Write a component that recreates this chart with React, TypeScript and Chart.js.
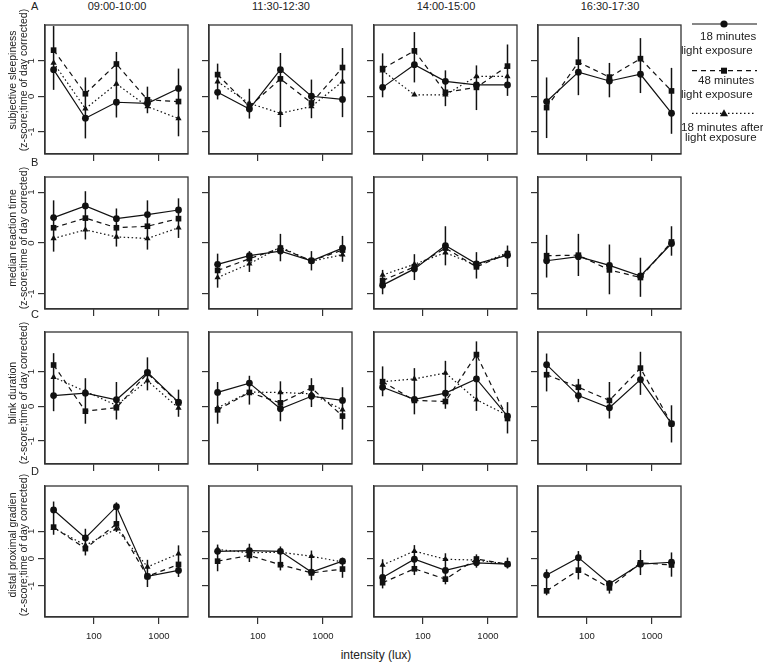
import React, { useEffect, useRef } from "react";
import { Chart, registerables } from "chart.js";

Chart.register(...registerables);

// ---------- data ----------
const LUX = [24, 74, 222, 666, 2000];
const X_TICKS = [100, 1000];
const Y_TICKS = [-1, 0, 1];
const TIME_WINDOWS = ["09:00-10:00", "11:30-12:30", "14:00-15:00", "16:30-17:30"];
const PANEL_LETTERS = ["A", "B", "C", "D"];
const MEASURE_NAMES = ["subjective sleepiness", "median reaction time", "blink duration", "distal proximal gradien"];
const Y_SUBTITLE = "(z-score;time of day corrected)";
const X_TITLE = "intensity (lux)";
const SERIES_18 = ["18 minutes", "light exposure"];
const SERIES_48 = ["48 minutes", "light exposure"];
const SERIES_AFTER = ["18 minutes after", "light exposure"];

// subjective sleepiness (one array per time window)
const sleep18 = [
  [0.75, -0.62, -0.17, -0.2, 0.22],
  [0.11, -0.36, 0.75, 0.0, -0.09],
  [0.25, 0.89, 0.42, 0.32, 0.32],
  [-0.15, 0.68, 0.43, 0.62, -0.48],
];
const sleep48 = [
  [1.3, 0.07, 0.91, -0.1, -0.15],
  [0.61, -0.29, 0.49, -0.19, 0.81],
  [0.78, 1.28, 0.11, 0.25, 0.85],
  [-0.32, 0.96, 0.54, 1.06, 0.15],
];
const sleepAfter = [
  [0.94, -0.35, 0.35, -0.29, -0.63],
  [0.41, -0.2, -0.48, -0.29, 0.41],
  [0.72, 0.04, 0.04, 0.56, 0.56],
  null,
];
const sleepErrLow = [
  [0.18, -1.19, -0.6, -0.48, -1.13],
  [-0.09, -0.63, -0.87, -0.62, -0.59],
  [-0.03, 0.39, -0.28, -0.39, 0.01],
  [-1.18, 0.03, -0.03, 0.09, -1.06],
];
const sleepErrHigh = [
  [1.98, 0.53, 1.25, 0.27, 0.78],
  [0.92, 0.21, 1.22, 0.47, 1.36],
  [1.21, 1.81, 0.73, 0.87, 1.46],
  [0.53, 1.67, 0.94, 1.64, 0.8],
];

// median reaction time
const rt18 = [
  [0.5, 0.73, 0.48, 0.56, 0.65],
  [-0.42, -0.25, -0.16, -0.35, -0.1],
  [-0.83, -0.51, -0.05, -0.41, -0.24],
  [-0.35, -0.27, -0.44, -0.65, -0.01],
];
const rt48 = [
  [0.3, 0.49, 0.3, 0.33, 0.48],
  [-0.54, -0.31, -0.1, -0.35, -0.14],
  [-0.74, -0.47, -0.1, -0.47, -0.21],
  [-0.25, -0.24, -0.53, -0.68, 0.02],
];
const rtAfter = [
  [0.09, 0.26, 0.12, 0.09, 0.3],
  [-0.68, -0.41, -0.08, -0.36, -0.23],
  [-0.63, -0.42, -0.19, -0.44, -0.19],
  null,
];
const rtErrLow = [
  [-0.17, 0.07, -0.07, -0.13, 0.1],
  [-0.88, -0.57, -0.36, -0.54, -0.37],
  [-1.01, -0.73, -0.44, -0.7, -0.47],
  [-0.68, -0.65, -1.01, -1.06, -0.25],
];
const rtErrHigh = [
  [0.84, 1.02, 0.68, 0.84, 0.88],
  [-0.21, -0.16, 0.18, -0.16, 0.14],
  [-0.53, -0.22, 0.33, -0.18, -0.05],
  [0.16, 0.18, -0.03, -0.29, 0.33],
];

// blink duration
const blink18 = [
  [0.31, 0.38, 0.19, 0.98, 0.12],
  [0.4, 0.67, -0.07, 0.29, 0.17],
  [0.55, 0.2, 0.38, 0.79, -0.28],
  [1.2, 0.31, -0.04, 0.77, -0.5],
];
const blink48 = [
  [1.19, -0.14, -0.04, 0.95, 0.1],
  [-0.1, 0.4, 0.1, 0.53, -0.28],
  [0.71, 0.17, 0.14, 1.49, -0.35],
  [0.91, 0.55, 0.17, 1.1, -0.5],
];
const blinkAfter = [
  [0.84, 0.43, 0.03, 0.74, -0.05],
  [-0.04, 0.41, 0.4, 0.36, -0.1],
  [0.71, 0.79, 0.96, 0.19, -0.26],
  null,
];
const blinkErrLow = [
  [-0.14, -0.5, -0.38, 0.46, -0.3],
  [-0.5, 0.05, -0.43, -0.02, -0.67],
  [0.29, -0.23, -0.07, -0.13, -0.78],
  [0.43, 0.12, -0.35, 0.33, -1.04],
];
const blinkErrHigh = [
  [1.53, 0.81, 0.7, 1.41, 0.48],
  [0.7, 0.88, 0.72, 0.81, 0.55],
  [1.15, 1.1, 1.31, 1.87, 0.12],
  [1.52, 0.79, 0.7, 1.57, 0.03],
];

// distal proximal gradient
const dpg18 = [
  [1.79, 0.76, 1.91, -0.65, -0.43],
  [0.27, 0.3, 0.27, -0.49, -0.09],
  [-0.69, -0.02, -0.43, -0.15, -0.2],
  [-0.6, 0.04, -0.92, -0.2, -0.13],
];
const dpg48 = [
  [1.16, 0.37, 1.28, -0.65, -0.21],
  [-0.09, 0.12, -0.22, -0.52, -0.38],
  [-0.88, -0.37, -0.75, -0.01, -0.2],
  [-1.18, -0.42, -1.07, -0.15, -0.23],
];
const dpgAfter = [
  [1.13, 0.49, 1.1, -0.3, 0.18],
  [0.34, 0.22, 0.24, 0.09, -0.12],
  [-0.23, 0.28, -0.02, -0.05, -0.2],
  null,
];
const dpgErrLow = [
  [0.88, 0.12, 0.98, -1.04, -0.67],
  [-0.46, -0.12, -0.43, -0.79, -0.7],
  [-1.09, -0.6, -0.94, -0.33, -0.36],
  [-1.34, -0.76, -1.28, -0.6, -0.66],
];
const dpgErrHigh = [
  [2.1, 1.1, 2.07, -0.04, 0.49],
  [0.52, 0.55, 0.45, 0.3, 0.04],
  [-0.02, 0.5, 0.2, 0.16, 0.04],
  [-0.39, 0.28, -0.79, 0.32, 0.23],
];

const ROWS = [
  { s18: sleep18, s48: sleep48, after: sleepAfter, lo: sleepErrLow, hi: sleepErrHigh },
  { s18: rt18, s48: rt48, after: rtAfter, lo: rtErrLow, hi: rtErrHigh },
  { s18: blink18, s48: blink48, after: blinkAfter, lo: blinkErrLow, hi: blinkErrHigh },
  { s18: dpg18, s48: dpg48, after: dpgAfter, lo: dpgErrLow, hi: dpgErrHigh },
];

// ---------- layout ----------
const FONT = "'Liberation Sans', Arial, Helvetica, sans-serif";
const INK = "#111";
const FRAME = "#333";
const COL_LEFT = [45, 209, 374, 538];
const PANEL_W = 144;
const ROW_TOP = [24, 176, 331, 485];
const ROW_H = [130, 133, 133, 132];
const Y_RANGE = [
  [-1.63, 2.01],
  [-1.3, 1.3],
  [-1.66, 2.14],
  [-2.14, 2.67],
];
const TITLE_CENTER_Y = [80, 238, 393, 545];
const LETTER_Y = [6, 162, 314, 471];

function Panel({ row, col }: { row: number; col: number }) {
  const ref = useRef<HTMLCanvasElement | null>(null);
  const padL = col === 0 ? 45 : 12;
  const padR = 3;
  const padT = 3;
  const padB = row === 3 ? 30 : 12;
  const cw = PANEL_W + padL + padR;
  const ch = ROW_H[row] + padT + padB;
  const left = COL_LEFT[col] - padL;
  const top = ROW_TOP[row] - padT;

  useEffect(() => {
    const d = ROWS[row];
    const mk = (vals: number[]) => LUX.map((x, i) => ({ x, y: vals[i] }));
    const base = {
      borderColor: INK,
      backgroundColor: INK,
      borderWidth: 1.2,
      pointBackgroundColor: INK,
      pointBorderColor: INK,
      pointBorderWidth: 0,
      tension: 0,
      fill: false,
    };
    const datasets: any[] = [];
    if (d.after[col]) {
      datasets.push({
        ...base,
        label: SERIES_AFTER.join(" "),
        data: mk(d.after[col] as number[]),
        borderDash: [1.5, 2.5],
        pointStyle: "triangle",
        pointRadius: 3.6,
      });
    }
    datasets.push({
      ...base,
      label: SERIES_48.join(" "),
      data: mk(d.s48[col]),
      borderDash: [5, 4],
      pointStyle: "rect",
      pointRadius: 4,
    });
    datasets.push({
      ...base,
      label: SERIES_18.join(" "),
      data: mk(d.s18[col]),
      pointStyle: "circle",
      pointRadius: 3.4,
    });

    const extras = {
      id: "panelExtras",
      beforeDatasetsDraw(chart: any) {
        const ctx = chart.ctx;
        const xs = chart.scales.x;
        const ys = chart.scales.y;
        ctx.save();
        ctx.strokeStyle = INK;
        ctx.lineWidth = 1.5;
        LUX.forEach((lx, i) => {
          const px = xs.getPixelForValue(lx);
          ctx.beginPath();
          ctx.moveTo(px, ys.getPixelForValue(d.lo[col][i]));
          ctx.lineTo(px, ys.getPixelForValue(d.hi[col][i]));
          ctx.stroke();
        });
        ctx.restore();
      },
      afterDraw(chart: any) {
        const ctx = chart.ctx;
        const a = chart.chartArea;
        ctx.save();
        ctx.strokeStyle = FRAME;
        ctx.lineWidth = 1.3;
        ctx.strokeRect(a.left, a.top, a.right - a.left, a.bottom - a.top);
        if (col === 0) {
          const ys = chart.scales.y;
          ctx.fillStyle = "#222";
          ctx.font = `9.5px ${FONT}`;
          ctx.textAlign = "center";
          ctx.textBaseline = "bottom";
          Y_TICKS.forEach((v) => {
            ctx.save();
            ctx.translate(a.left - 9, ys.getPixelForValue(v));
            ctx.rotate(-Math.PI / 2);
            ctx.fillText(String(v), 0, 0);
            ctx.restore();
          });
        }
        ctx.restore();
      },
    };

    const gridOpts = {
      display: true,
      drawOnChartArea: false,
      drawTicks: true,
      tickLength: 7,
      color: FRAME,
      lineWidth: 1.2,
    };

    const chart = new Chart(ref.current as HTMLCanvasElement, {
      type: "line",
      data: { datasets },
      options: {
        animation: false,
        responsive: false,
        devicePixelRatio: 1,
        layout: { padding: { top: padT, right: padR, left: 0, bottom: 0 } },
        plugins: {
          legend: { display: false },
          tooltip: { enabled: false },
          title: { display: false },
        },
        scales: {
          x: {
            type: "logarithmic",
            position: "bottom",
            min: 17.7,
            max: 2800,
            afterBuildTicks: (s: any) => {
              s.ticks = X_TICKS.map((v) => ({ value: v }));
            },
            afterFit: (s: any) => {
              s.height = padB;
            },
            grid: gridOpts,
            border: { display: true, color: FRAME, width: 1.3 },
            ticks: {
              display: row === 3,
              autoSkip: false,
              maxRotation: 0,
              minRotation: 0,
              padding: 7,
              color: "#222",
              font: { size: 9.5, family: FONT },
              callback: (v: any) => String(v),
            },
          },
          y: {
            type: "linear",
            position: "left",
            min: Y_RANGE[row][0],
            max: Y_RANGE[row][1],
            afterBuildTicks: (s: any) => {
              s.ticks = Y_TICKS.map((v) => ({ value: v }));
            },
            afterFit: (s: any) => {
              s.width = padL;
            },
            grid: gridOpts,
            border: { display: true, color: FRAME, width: 1.3 },
            ticks: { display: false },
          },
        },
      } as any,
      plugins: [extras as any],
    });
    return () => chart.destroy();
  }, [row, col]);

  return (
    <canvas
      ref={ref}
      width={cw}
      height={ch}
      style={{ position: "absolute", left, top, width: cw, height: ch }}
    />
  );
}

const textStyle = (extra: any) => ({
  position: "absolute" as const,
  fontFamily: FONT,
  color: "#222",
  whiteSpace: "nowrap" as const,
  lineHeight: "13px",
  ...extra,
});

function Legend() {
  const lx1 = 12;
  const lx2 = 77;
  const mx = 44;
  return (
    <>
      <svg
        width={83}
        height={150}
        style={{ position: "absolute", left: 680, top: 0 }}
      >
        <line x1={lx1} y1={24} x2={lx2} y2={24} stroke={INK} strokeWidth={1.2} />
        <circle cx={mx} cy={24} r={3.6} fill={INK} />
        <line x1={lx1} y1={70.7} x2={lx2} y2={70.7} stroke={INK} strokeWidth={1.2} strokeDasharray="5 4" />
        <rect x={mx - 3} y={70.7 - 3} width={6} height={6} fill={INK} />
        <line x1={lx1} y1={113.3} x2={lx2 - 3} y2={113.3} stroke={INK} strokeWidth={1.2} strokeDasharray="1.5 2.5" />
        <polygon points={`${mx},${113.3 - 4} ${mx - 4},${113.3 + 3} ${mx + 4},${113.3 + 3}`} fill={INK} />
      </svg>
      <div style={textStyle({ left: 700, top: 30, fontSize: 11.5 })}>{SERIES_18[0]}</div>
      <div style={textStyle({ left: 681, top: 44, fontSize: 11.5 })}>{SERIES_18[1]}</div>
      <div style={textStyle({ left: 698, top: 74, fontSize: 11.5 })}>{SERIES_48[0]}</div>
      <div style={textStyle({ left: 681, top: 88, fontSize: 11.5 })}>{SERIES_48[1]}</div>
      <div style={textStyle({ left: 681, top: 121, fontSize: 11.5 })}>{SERIES_AFTER[0]}</div>
      <div style={textStyle({ left: 685, top: 131, fontSize: 11.5 })}>{SERIES_AFTER[1]}</div>
    </>
  );
}

export default function App() {
  const panels: any[] = [];
  for (let r = 0; r < 4; r++) {
    for (let c = 0; c < 4; c++) {
      panels.push(<Panel key={`${r}-${c}`} row={r} col={c} />);
    }
  }
  return (
    <div
      style={{
        position: "absolute",
        left: 0,
        top: 0,
        width: 763,
        height: 664,
        background: "#fff",
        overflow: "hidden",
      }}
    >
      {panels}
      {TIME_WINDOWS.map((t, c) => (
        <div
          key={t}
          style={textStyle({
            left: COL_LEFT[c] + PANEL_W / 2,
            top: 0,
            fontSize: 11,
            transform: "translateX(-50%)",
          })}
        >
          {t}
        </div>
      ))}
      {PANEL_LETTERS.map((l, r) => (
        <div key={l} style={textStyle({ left: 31, top: LETTER_Y[r] - 6.5, fontSize: 11 })}>
          {l}
        </div>
      ))}
      {MEASURE_NAMES.map((m, r) => (
        <div
          key={m}
          style={{
            position: "absolute",
            left: 17,
            top: TITLE_CENTER_Y[r],
            transform: "translate(-50%, -50%) rotate(-90deg)",
            fontFamily: FONT,
            fontSize: 10.5,
            lineHeight: "10.5px",
            color: "#222",
            textAlign: "center",
            whiteSpace: "nowrap",
          }}
        >
          <div>{m}</div>
          <div>{Y_SUBTITLE}</div>
        </div>
      ))}
      <div
        style={textStyle({
          left: 376,
          top: 649,
          fontSize: 12,
          transform: "translateX(-50%)",
        })}
      >
        {X_TITLE}
      </div>
      <Legend />
    </div>
  );
}
